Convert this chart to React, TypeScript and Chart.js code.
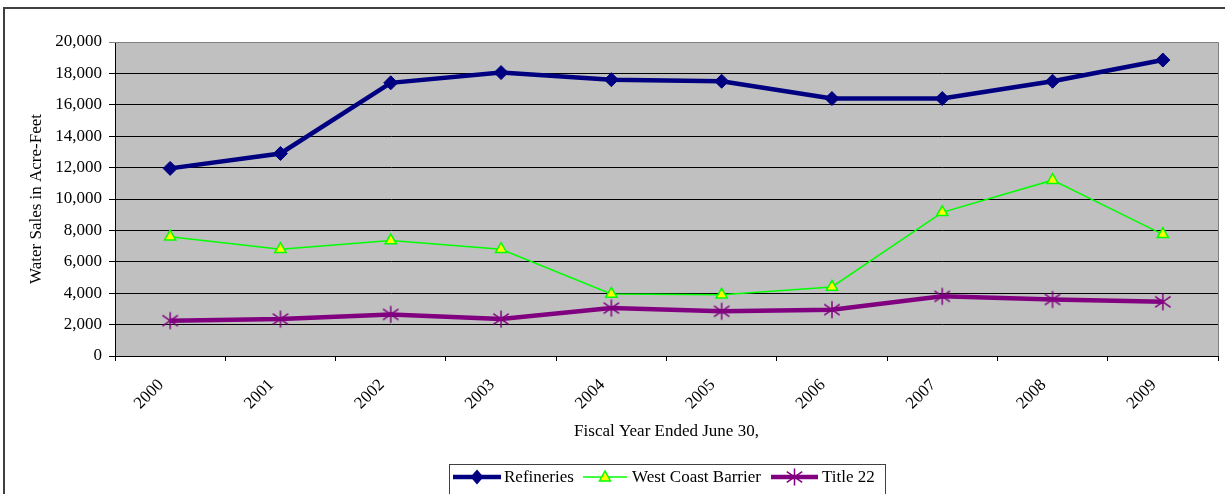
import React, { useEffect, useRef } from "react";
import { Chart, registerables } from "chart.js";

Chart.register(...registerables);

const years = ["2000", "2001", "2002", "2003", "2004", "2005", "2006", "2007", "2008", "2009"];
const refineries = [11950, 12900, 17400, 18050, 17600, 17500, 16400, 16400, 17500, 18850];
const westCoastBarrier = [7600, 6800, 7350, 6800, 3950, 3900, 4400, 9150, 11200, 7750];
const title22 = [2250, 2350, 2650, 2350, 3050, 2850, 2950, 3800, 3600, 3450];
const yMax = 20000;
const yStep = 2000;

const FONT = "'Liberation Serif', 'Times New Roman', serif";
const NAVY = "#000080";
const GREEN = "#00FF00";
const YELLOW = "#FFFF00";
const PURPLE = "#800080";

function drawStar(ctx: CanvasRenderingContext2D, x: number, y: number, r: number) {
  ctx.save();
  ctx.strokeStyle = PURPLE;
  ctx.lineWidth = 1.5;
  ctx.beginPath();
  ctx.moveTo(x, y - r);
  ctx.lineTo(x, y + r);
  const dx = r * Math.cos(Math.PI / 6) * 1.05;
  const dy = r * Math.sin(Math.PI / 6) * 1.25;
  ctx.moveTo(x - dx, y - dy);
  ctx.lineTo(x + dx, y + dy);
  ctx.moveTo(x + dx, y - dy);
  ctx.lineTo(x - dx, y + dy);
  ctx.stroke();
  ctx.restore();
}

function makeStarCanvas(): HTMLCanvasElement {
  const c = document.createElement("canvas");
  c.width = 20;
  c.height = 20;
  const ctx = c.getContext("2d")!;
  drawStar(ctx, 10, 10, 8.5);
  return c;
}

const chartDecor = {
  id: "chartDecor",
  beforeDraw(chart: any) {
    const { ctx, chartArea } = chart;
    ctx.save();
    ctx.fillStyle = "#ffffff";
    ctx.fillRect(0, 0, chart.width, chart.height);
    ctx.strokeStyle = "#404040";
    ctx.lineWidth = 2;
    ctx.beginPath();
    ctx.moveTo(4, chart.height);
    ctx.lineTo(4, 8);
    ctx.lineTo(chart.width, 8);
    ctx.stroke();
    ctx.fillStyle = "#C0C0C0";
    ctx.fillRect(chartArea.left, chartArea.top, chartArea.right - chartArea.left, chartArea.bottom - chartArea.top);
    ctx.restore();
  },
  beforeDatasetsDraw(chart: any) {
    const { ctx, chartArea } = chart;
    ctx.save();
    ctx.strokeStyle = "#808080";
    ctx.lineWidth = 1;
    ctx.beginPath();
    ctx.moveTo(chartArea.left, chartArea.top + 0.5);
    ctx.lineTo(chartArea.right + 0.5, chartArea.top + 0.5);
    ctx.lineTo(chartArea.right + 0.5, chartArea.bottom);
    ctx.stroke();
    ctx.restore();
  },
  afterDraw(chart: any) {
    const { ctx } = chart;
    ctx.save();
    ctx.strokeStyle = "#404040";
    ctx.lineWidth = 1;
    ctx.strokeRect(449.5, 464.5, 436, 32);
    const cy = 477;
    ctx.font = "17px " + FONT;
    ctx.fillStyle = "#000";
    ctx.textBaseline = "middle";
    ctx.textAlign = "left";
    // Refineries
    ctx.strokeStyle = NAVY;
    ctx.lineWidth = 4.5;
    ctx.beginPath();
    ctx.moveTo(453, cy);
    ctx.lineTo(501, cy);
    ctx.stroke();
    ctx.fillStyle = NAVY;
    ctx.beginPath();
    ctx.moveTo(477 - 6.5, cy);
    ctx.lineTo(477, cy - 7.5);
    ctx.lineTo(477 + 6.5, cy);
    ctx.lineTo(477, cy + 7.5);
    ctx.closePath();
    ctx.fill();
    ctx.fillStyle = "#000";
    ctx.fillText("Refineries", 504, cy + 1);
    // West Coast Barrier
    ctx.strokeStyle = GREEN;
    ctx.lineWidth = 1.5;
    ctx.beginPath();
    ctx.moveTo(583, cy);
    ctx.lineTo(627, cy);
    ctx.stroke();
    const tx = 605;
    ctx.fillStyle = YELLOW;
    ctx.beginPath();
    ctx.moveTo(tx, cy - 6);
    ctx.lineTo(tx + 5.5, cy + 4);
    ctx.lineTo(tx - 5.5, cy + 4);
    ctx.closePath();
    ctx.fill();
    ctx.stroke();
    ctx.fillStyle = "#000";
    ctx.fillText("West Coast Barrier", 632, cy + 1);
    // Title 22
    ctx.strokeStyle = PURPLE;
    ctx.lineWidth = 4.5;
    ctx.beginPath();
    ctx.moveTo(771, cy);
    ctx.lineTo(818, cy);
    ctx.stroke();
    drawStar(ctx, 794.5, cy, 8.5);
    ctx.fillStyle = "#000";
    ctx.fillText("Title 22", 822, cy + 1);
    ctx.restore();
  },
};

export default function App() {
  const canvasRef = useRef<HTMLCanvasElement | null>(null);

  useEffect(() => {
    if (!canvasRef.current) return;
    const star = makeStarCanvas();
    const chart = new Chart(canvasRef.current, {
      type: "line",
      data: {
        labels: years,
        datasets: [
          {
            label: "Refineries",
            data: refineries,
            borderColor: NAVY,
            backgroundColor: NAVY,
            borderWidth: 4.5,
            pointStyle: "rectRot",
            pointRadius: 7,
            pointBorderWidth: 1,
            pointBackgroundColor: NAVY,
            pointBorderColor: NAVY,
            tension: 0,
            fill: false,
          },
          {
            label: "West Coast Barrier",
            data: westCoastBarrier,
            borderColor: GREEN,
            backgroundColor: YELLOW,
            borderWidth: 1.5,
            pointStyle: "triangle",
            pointRadius: 6.5,
            pointBorderWidth: 1.5,
            pointBackgroundColor: YELLOW,
            pointBorderColor: GREEN,
            tension: 0,
            fill: false,
          },
          {
            label: "Title 22",
            data: title22,
            borderColor: PURPLE,
            backgroundColor: PURPLE,
            borderWidth: 4.5,
            pointStyle: star as any,
            pointRadius: 9,
            tension: 0,
            fill: false,
          },
        ],
      },
      options: {
        responsive: false,
        animation: false,
        devicePixelRatio: 1,
        layout: { autoPadding: false, padding: { top: 42, right: 7, bottom: 52, left: 0 } },
        plugins: {
          legend: { display: false },
          tooltip: { enabled: false },
        },
        scales: {
          x: {
            offset: true,
            grid: {
              display: true,
              drawOnChartArea: false,
              drawTicks: true,
              tickLength: 5,
              color: "#000",
              offset: true,
            },
            border: { display: true, color: "#000", width: 1 },
            ticks: {
              autoSkip: false,
              maxRotation: 45,
              minRotation: 45,
              padding: 14,
              labelOffset: -9,
              color: "#000",
              font: { family: FONT, size: 17 },
            },
            title: {
              display: true,
              text: "Fiscal Year Ended June 30,",
              color: "#000",
              font: { family: FONT, size: 17 },
              padding: { top: 0, bottom: 0 },
            },
            afterFit: (scale: any) => {
              scale.height = 86;
              scale.paddingLeft = 0;
              scale.paddingRight = 0;
            },
          },
          y: {
            min: 0,
            max: yMax,
            grid: {
              color: (c: any) => (c.tick && c.tick.value === yMax ? "#808080" : "#000"),
              tickLength: 6,
              lineWidth: 1,
            },
            border: { display: true, color: "#000", width: 1 },
            ticks: {
              stepSize: yStep,
              padding: 7,
              color: "#000",
              font: { family: FONT, size: 17 },
              callback: (v: any) => Number(v).toLocaleString("en-US"),
            },
            title: {
              display: true,
              text: "Water Sales in Acre-Feet",
              color: "#000",
              font: { family: FONT, size: 17 },
              padding: { top: 26, bottom: 0 },
            },
            afterFit: (scale: any) => {
              scale.width = 115;
              scale.paddingTop = 0;
              scale.paddingBottom = 0;
            },
          },
        },
      },
      plugins: [chartDecor],
    });
    return () => chart.destroy();
  }, []);

  return (
    <div style={{ position: "absolute", left: 0, top: 0, width: 1225, height: 494 }}>
      <canvas ref={canvasRef} width={1225} height={494} style={{ display: "block" }} />
    </div>
  );
}
